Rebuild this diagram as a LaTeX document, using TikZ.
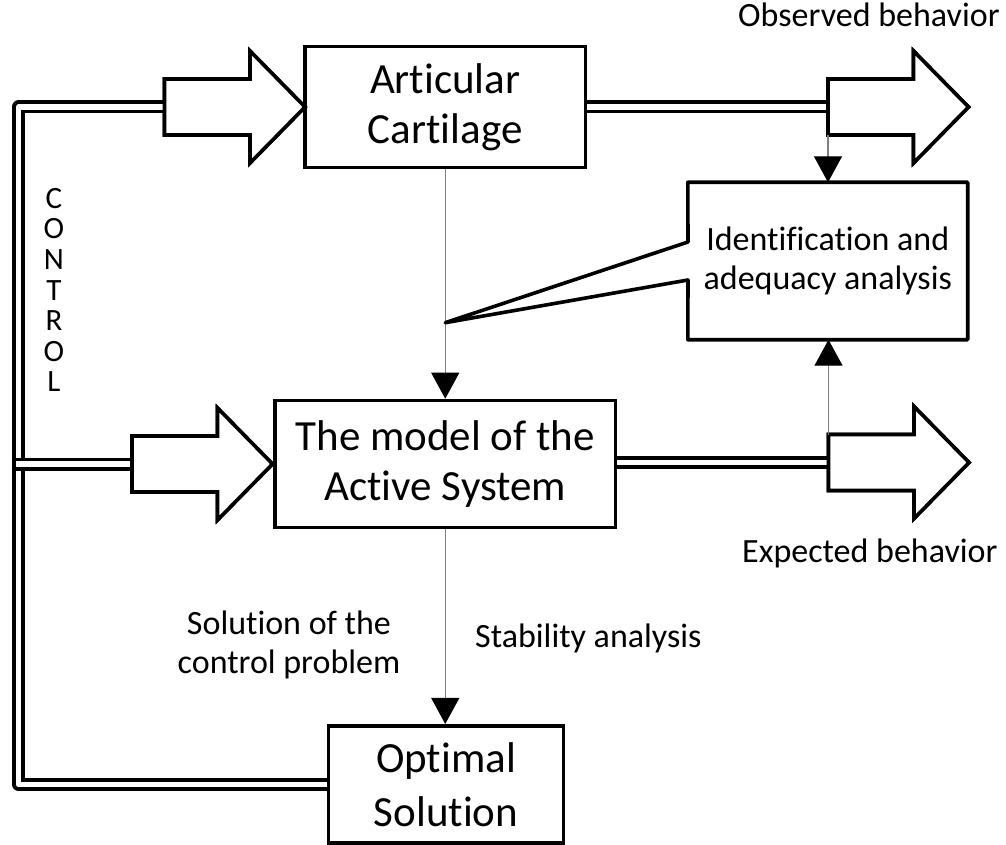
\documentclass[tikz,border=0pt]{standalone}
\usepackage{fontspec}
\setmainfont{Carlito}[Ligatures=NoCommon]
\usetikzlibrary{arrows.meta}
\begin{document}
\begin{tikzpicture}[x=1pt,y=-1pt,
  boxline/.style={line width=3.6pt},
  block/.style={draw, line width=3.6pt, align=center, inner sep=0pt,
    font=\fontsize{43}{50}\selectfont},
  note/.style={align=center, inner sep=0pt, font=\fontsize{34}{38.5}\selectfont},
  bus/.style={double=white, double distance=5.6pt, line width=3.7pt, line join=round},
  link/.style={draw=black!50, line width=1.3pt,
    -{Triangle[width=28pt,length=26pt,color=black]}},
  fatarrow/.pic={
    \draw[boxline, fill=white] (0,-28) -- (85.5,-28) -- (85.5,-56) -- (140.5,0)
      -- (85.5,56) -- (85.5,28) -- (0,28) -- cycle;
    \coordinate (-w) at (0,0);
    \coordinate (-nw) at (0,-28);
    \coordinate (-sw) at (0,28);
  }
]
\useasboundingbox (0,0) rectangle (1006,845);

% main blocks
\node[block, minimum width=280.5pt, minimum height=121pt] (art) at (445.25,107) {Articular\\Cartilage};
\node[block, minimum width=340.5pt, minimum height=127pt] (model) at (445.25,464) {The model of the\\Active System};
\node[block, minimum width=235pt, minimum height=117.5pt, font=\fontsize{43}{54}\selectfont] (opt) at (446,784.5) {Optimal\\Solution};
\node[note, minimum width=279.5pt, minimum height=157pt] (ident) at (827.75,261) {Identification and\\adequacy analysis};

% callout outline of the identification block
\coordinate (tip) at (445.25,322.7);
\coordinate (notchA) at (688,242);
\coordinate (notchB) at (688,280);

% control bus (double lines)
\coordinate (lt) at (18.6,107);
\coordinate (lm) at (15.5,464);
\pic (in1) at (164.5,107) {fatarrow};
\pic (in2) at (132,464) {fatarrow};
\pic (out1) at (828,107) {fatarrow};
\pic (out2) at (828.5,462.5) {fatarrow};

\draw[bus] (in1-w) -- (lt) |- (opt.west);
\draw[bus] (lm) -- (in2-w);
\draw[bus] (art.east |- out1-w) -- (out1-w);
\draw[bus] (model.east |- out2-w) -- (out2-w);

% redraw the big arrows over the bus ends
\pic at (164.5,107) {fatarrow};
\pic at (132,464) {fatarrow};
\pic at (828,107) {fatarrow};
\pic at (828.5,462.5) {fatarrow};

% thin connectors
\draw[link] (art.south) -- (model.north);
\draw[link] (model.south) -- (model.south |- opt.north);
\draw[link] (out1-sw) -- (out1-sw |- ident.north);
\draw[link] (out2-nw) -- (out2-nw |- ident.south);

\draw[boxline, line join=round] (ident.north west) -- (ident.north east) -- (ident.south east)
  -- (ident.south west) -- (notchB) -- (tip) -- (notchA) -- cycle;

% labels
\node[note, anchor=base west] (obs) at (738,27) {Observed behavior};
\node[note, anchor=base west] (expd) at (742,562.5) {Expected behavior};
\node[note, anchor=base west] (stab) at (475,647) {Stability analysis};
\node[note] (solctl) at (289,645) {Solution of the\\control problem};
\node[note, font=\fontsize{31}{30.6}\selectfont] (ctl) at (54,290) {C\\O\\N\\T\\R\\O\\L};
\end{tikzpicture}
\end{document}
